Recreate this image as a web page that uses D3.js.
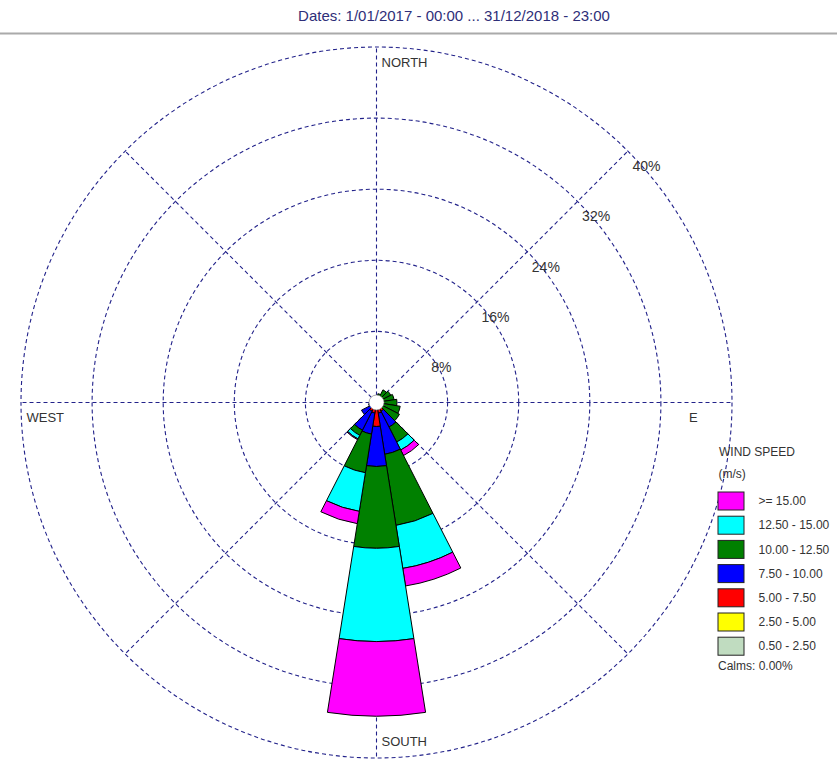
<!DOCTYPE html>
<html>
<head>
<meta charset="utf-8">
<script src="https://cdn.jsdelivr.net/npm/d3@7"></script>
<style>
  body { margin: 0; background: #fff; }
  svg { display: block; font-family: "Liberation Sans", Arial, sans-serif; }
</style>
</head>
<body>
<svg id="chart" width="837" height="765"></svg>
<script>
// Sector centres (degrees clockwise from north), 20 sectors of 18 degrees
const directions = [0, 18, 36, 54, 72, 90, 108, 126, 144, 162, 180, 198, 216, 234, 252, 270, 288, 306, 324, 342];

// Frequency (%) per speed class for each sector
const speed_0_5  = [0.05, 0.05, 0.05, 0.05, 0.05, 0.05, 0.05, 0.05, 0.05, 0.05, 0.10, 0.05, 0.05, 0.05, 0.05, 0.05, 0.05, 0.05, 0.05, 0.05];
const speed_2_5  = [0.10, 0.10, 0.05, 0.05, 0.05, 0.05, 0.05, 0.05, 0.10, 0.10, 0.20, 0.10, 0.10, 0.10, 0.10, 0.10, 0.10, 0.10, 0.10, 0.10];
const speed_5_0  = [0.10, 0.10, 0.15, 0.15, 0.15, 0.15, 0.15, 0.20, 0.95, 1.05, 2.40, 1.05, 0.95, 0.45, 0.25, 0.15, 0.10, 0.10, 0.10, 0.10];
const speed_7_5  = [0.15, 0.20, 0.35, 0.35, 0.35, 0.35, 0.40, 0.50, 2.00, 4.70, 4.50, 2.40, 2.40, 1.30, 0.50, 0.20, 0.10, 0.10, 0.10, 0.15];
const speed_10_0 = [0.10, 0.55, 1.00, 1.20, 1.40, 1.70, 2.05, 2.10, 1.90, 8.10, 9.20, 4.40, 0.65, 0, 0, 0, 0, 0, 0, 0];
const speed_12_5 = [0, 0, 0, 0, 0, 0, 0, 0, 1.00, 4.90, 10.50, 4.40, 0.45, 0, 0, 0, 0, 0, 0, 0];
const speed_15_0 = [0, 0, 0, 0, 0, 0, 0, 0, 0.70, 2.00, 8.40, 1.40, 0.10, 0, 0, 0, 0, 0, 0, 0];

// Speed classes from slowest to fastest (stacking order, outward)
const classLabels = ["0.50 - 2.50", "2.50 - 5.00", "5.00 - 7.50", "7.50 - 10.00", "10.00 - 12.50", "12.50 - 15.00", ">= 15.00"];
const classColors = ["#c0dcc0", "#ffff00", "#ff0000", "#0000ff", "#008000", "#00ffff", "#ff00ff"];
const classValues = [speed_0_5, speed_2_5, speed_5_0, speed_7_5, speed_10_0, speed_12_5, speed_15_0];

// Ring ticks (%)
const ringTicks = [8, 16, 24, 32, 40];
const compassLabels = ["NORTH", "E", "SOUTH", "WEST"];
const titleText = "Dates: 1/01/2017 - 00:00 ... 31/12/2018 - 23:00";
const calmsText = "Calms: 0.00%";

const svg = d3.select("#chart");
const cx = 376.5, cy = 402.5;
const rMax = 355.5;
const r = d3.scaleLinear().domain([0, 40]).range([0, rMax]);
const toRad = d => d * Math.PI / 180;
const sectorWidth = 18;

const gridColor = "#22228a";
const textColor = "#333333";

// Title and rule
svg.append("text")
  .attr("x", 454).attr("y", 21)
  .attr("text-anchor", "middle")
  .attr("font-size", 15)
  .attr("fill", "#2e2e78")
  .text(titleText);
svg.append("line")
  .attr("x1", 0).attr("x2", 837).attr("y1", 33.5).attr("y2", 33.5)
  .attr("stroke", "#aaaaaa").attr("stroke-width", 2);

const plot = svg.append("g").attr("transform", `translate(${cx},${cy})`);

// Grid rings
const grid = plot.append("g")
  .attr("fill", "none")
  .attr("stroke", gridColor)
  .attr("stroke-width", 1.1)
  .attr("stroke-dasharray", "4,3");
grid.selectAll("circle.ring").data(ringTicks).join("circle")
  .attr("class", "ring")
  .attr("r", d => r(d));

// Spokes: N-S and W-E axes plus diagonals
const maxTick = d3.max(ringTicks);
grid.selectAll("line.spoke").data([0, 45, 90, 135, 180, 225, 270, 315]).join("line")
  .attr("class", "spoke")
  .attr("x1", 0).attr("y1", 0)
  .attr("x2", d => r(maxTick) * Math.sin(toRad(d)))
  .attr("y2", d => -r(maxTick) * Math.cos(toRad(d)));

// Ring labels along the north-east diagonal
plot.append("g").selectAll("text").data(ringTicks).join("text")
  .attr("x", d => r(d) * Math.SQRT1_2 + 4.5)
  .attr("y", d => -r(d) * Math.SQRT1_2 + 20)
  .attr("font-size", 14)
  .attr("fill", textColor)
  .text(d => d + "%");

// Stacked wind-rose bars
const arc = d3.arc();
const segments = [];
directions.forEach((dir, i) => {
  let acc = 0;
  classValues.forEach((vals, k) => {
    const v = vals[i];
    if (v > 0) {
      segments.push({
        dir, k,
        inner: acc, outer: acc + v
      });
    }
    acc += v;
  });
});

plot.append("g").selectAll("path").data(segments).join("path")
  .attr("d", d => arc({
    innerRadius: r(d.inner),
    outerRadius: r(d.outer),
    startAngle: toRad(d.dir - sectorWidth / 2),
    endAngle: toRad(d.dir + sectorWidth / 2)
  }))
  .attr("fill", d => classColors[d.k])
  .attr("stroke", "#000")
  .attr("stroke-width", 1)
  .attr("stroke-linejoin", "round");

// Calm circle
plot.append("circle")
  .attr("r", 7.5)
  .attr("fill", "#fff")
  .attr("stroke", "#777")
  .attr("stroke-width", 0.6);

// Compass labels
const compassPos = [
  { t: compassLabels[0], x: 381.5, y: 66.5 },
  { t: compassLabels[1], x: 689, y: 421.5 },
  { t: compassLabels[2], x: 381.5, y: 746 },
  { t: compassLabels[3], x: 26.5, y: 421.5 }
];
svg.append("g").selectAll("text").data(compassPos).join("text")
  .attr("x", d => d.x).attr("y", d => d.y)
  .attr("font-size", 13)
  .attr("fill", textColor)
  .text(d => d.t);

// Legend
const legend = svg.append("g").attr("fill", textColor).attr("font-size", 12);
legend.append("text").attr("x", 719).attr("y", 456).text("WIND SPEED");
legend.append("text").attr("x", 718.5).attr("y", 477.5).text("(m/s)");

const legendItems = classLabels.map((label, k) => ({ label, color: classColors[k] })).reverse();
const ly = d3.scaleLinear().domain([0, 1]).range([492, 516.2]);
const item = legend.selectAll("g.item").data(legendItems).join("g")
  .attr("class", "item")
  .attr("transform", (d, i) => `translate(718,${ly(i)})`);
item.append("rect")
  .attr("width", 26).attr("height", 18)
  .attr("fill", d => d.color)
  .attr("stroke", "#222").attr("stroke-width", 1);
item.append("text")
  .attr("x", 40.5).attr("y", 13.3)
  .text(d => d.label);

legend.append("text").attr("x", 718).attr("y", 670).attr("font-size", 12).text(calmsText);
</script>
</body>
</html>
